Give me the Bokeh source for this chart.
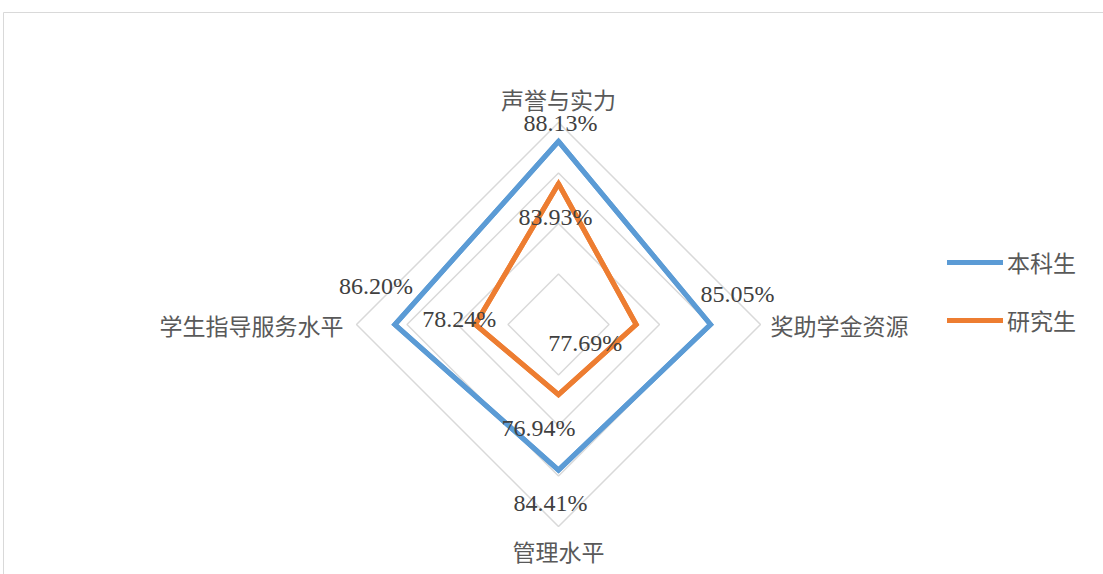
import math
from bokeh.plotting import figure
from bokeh.models import Range1d, Legend, LegendItem, ColumnDataSource
from bokeh.core.properties import value
from bokeh.embed import file_html
from bokeh.resources import INLINE

# ---- data ----
categories = ["声誉与实力", "奖助学金资源", "管理水平", "学生指导服务水平"]
series_names = ["本科生", "研究生"]
undergrad = [88.13, 85.05, 84.41, 86.20]
graduate = [83.93, 77.69, 76.94, 78.24]
ring_levels = [75, 80, 85, 90]
axis_min, axis_max = 70, 90

# ---- styles ----
colors = ["#5B9BD5", "#ED7D31"]
R = 202.0  # radius of outer ring in pixels (1 data unit == 1 px)
CJK = "Noto Sans CJK SC"
NUM = "Liberation Serif"

# label offsets (px, y up) for each series' data labels
label_offsets = [
    [(2, 18), (27, 31), (-8, -33), (-19, 39)],
    [(-3, -33), (-51, -18), (-20, -33), (-16, 6)],
]

n = len(categories)
angles = [math.pi / 2 - i * 2 * math.pi / n for i in range(n)]


def to_xy(vals):
    rs = [(v - axis_min) / (axis_max - axis_min) * R for v in vals]
    xs = [r * math.cos(a) for r, a in zip(rs, angles)]
    ys = [r * math.sin(a) for r, a in zip(rs, angles)]
    return xs, ys


p = figure(width=1103, height=574, output_backend="svg", toolbar_location=None,
           x_range=Range1d(-558, 545), y_range=Range1d(-250, 324),
           min_border=0, outline_line_color=None)
p.axis.visible = False
p.grid.visible = False
p.xaxis.visible = False
p.yaxis.visible = False

# chart border (top and left)
p.segment(x0=[-555, -555], y0=[312, 312], x1=[545, -555], y1=[312, -250],
          line_color="#d9d9d9", line_width=1)

# grid rings
ring_xs, ring_ys = [], []
for lv in ring_levels:
    xs, ys = to_xy([lv] * n)
    ring_xs.append(xs)
    ring_ys.append(ys)
p.patches(ring_xs, ring_ys, fill_color=None, line_color="#d9d9d9", line_width=1.5)

# series
items = []
for k, (name, vals) in enumerate(zip(series_names, [undergrad, graduate])):
    xs, ys = to_xy(vals)
    ln = p.line(xs + xs[:1], ys + ys[:1], line_color=colors[k], line_width=5,
                line_join="miter", line_cap="round")
    p.patch(xs, ys, fill_color=None, line_color=colors[k], line_width=5, line_join="miter")
    items.append(LegendItem(label=name, renderers=[ln]))
    lx = [x + o[0] for x, o in zip(xs, label_offsets[k])]
    ly = [y + o[1] for y, o in zip(ys, label_offsets[k])]
    p.text(lx, ly, text=[f"{v:.2f}%" for v in vals], text_align="center",
           text_baseline="middle", text_font=value(NUM), text_font_size="24px",
           text_color="#404040")

# category labels
cat_r = [226, 212, 226, 215]
cx = [r * math.cos(a) for r, a in zip(cat_r, angles)]
cy = [r * math.sin(a) for r, a in zip(cat_r, angles)]
aligns = ["center", "left", "center", "right"]
src = ColumnDataSource(dict(x=cx, y=cy, t=categories, al=aligns))
p.text(x="x", y="y", text="t", text_align="al", text_baseline="middle", source=src,
       text_font=value(CJK), text_font_size="23px", text_color="#595959")

legend = Legend(items=items, location=(947, 237), orientation="vertical",
                glyph_width=56, glyph_height=30, label_height=30, spacing=24,
                label_standoff=4, padding=0, margin=0, border_line_color=None,
                background_fill_alpha=0, label_text_font=CJK,
                label_text_font_size="23px", label_text_color="#595959")
p.add_layout(legend)

open("out.html", "w").write(file_html(p, INLINE))
